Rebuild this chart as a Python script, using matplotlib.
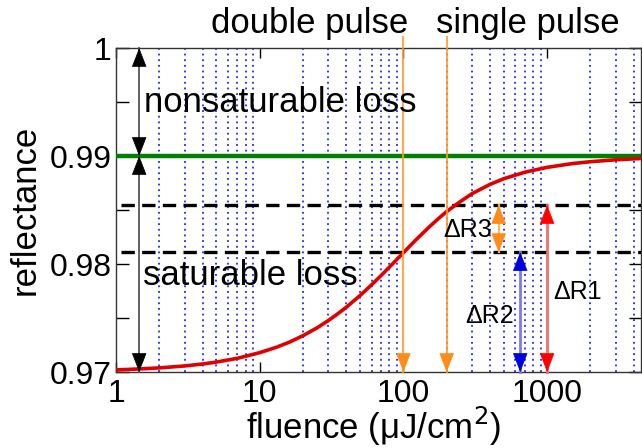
import numpy as np
import matplotlib
matplotlib.use("Agg")
import matplotlib.pyplot as plt
from matplotlib.ticker import LogLocator, FixedLocator, FuncFormatter, NullFormatter
import matplotlib.transforms as mtransforms

plt.rcParams['font.family'] = ['Liberation Sans', 'DejaVu Sans']

# ---- data ----
fluence = [1, 1.5, 2, 3, 4, 5, 7, 10, 13, 16, 20, 25, 30, 35, 40, 50, 60, 70, 85,
           100, 120, 150, 175, 200, 250, 300, 400, 500, 700, 1000, 1500, 2000,
           3000, 4500]
reflectance = [0.97019, 0.97029, 0.97038, 0.97056, 0.97074, 0.97092, 0.97127,
               0.97179, 0.97228, 0.97275, 0.97336, 0.97408, 0.97476, 0.97540,
               0.97599, 0.97709, 0.97807, 0.97894, 0.98008, 0.98105, 0.98213,
               0.98339, 0.98420, 0.98486, 0.98580, 0.98651, 0.98737, 0.98790,
               0.98850, 0.98895, 0.98930, 0.98947, 0.98965, 0.98977]
R_nonsat = 0.99          # green line
R_top = 1.0
R_bottom = 0.97
dR_low = 0.9811          # lower dashed line
dR_high = 0.98546        # upper dashed line
pulse_fluences = [100, 200]           # double / single pulse arrows
dR3_x, dR2_x, dR1_x = 460, 650, 1000
loss_arrow_x = 1.45
yticks = [0.97, 0.98, 0.99, 1.0]
xticks = [1, 10, 100, 1000]

fig = plt.figure(figsize=(6.42, 4.48), dpi=100)
ax = fig.add_axes([116/642, 76/448, 525/642, 324/448])
ax.set_xscale('log')
ax.set_xlim(1, 4500)
ax.set_ylim(R_bottom, R_top)

# grid (minor log positions only)
ax.xaxis.set_major_locator(FixedLocator(xticks))
ax.xaxis.set_major_formatter(FuncFormatter(lambda v, p: '%g' % v))
ax.xaxis.set_minor_locator(LogLocator(base=10, subs=np.arange(2, 10)))
ax.xaxis.set_minor_formatter(NullFormatter())
ax.grid(which='minor', axis='x', color='#0000EE', ls=(0, (1.2, 2.5)), lw=1.1)

ax.yaxis.set_major_locator(FixedLocator(yticks))
ax.yaxis.set_major_formatter(FuncFormatter(lambda v, p: '%g' % v))
ax.yaxis.set_minor_locator(FixedLocator([0.975, 0.985, 0.995]))

ax.tick_params(axis='both', which='both', direction='in', top=True, right=True,
               labelsize=23, width=1, color='black')
ax.tick_params(axis='x', which='major', length=7, pad=5)
ax.tick_params(axis='x', which='minor', length=0)
ax.tick_params(axis='y', which='both', length=9, pad=3)
for s in ax.spines.values():
    s.set_linewidth(1.0)
    s.set_color('#333333')

# lines
ax.axhline(R_nonsat, color='#008000', lw=3.2, zorder=3)
ax.plot(fluence, reflectance, color='#E00000', lw=2.6, zorder=4,
        solid_joinstyle='round')
for yv in (dR_low, dR_high):
    ax.plot([1.08, 4500], [yv, yv], color='black', lw=2.4, ls=(0, (4, 2.2)), zorder=3)

HEAD = dict(arrowstyle='-|>,head_length=0.9,head_width=0.35', lw=0.5,
            shrinkA=0, shrinkB=0, mutation_scale=14)

def head(x, yt, direction, color):
    ax.annotate('', xy=(x, yt), xytext=(x, yt - direction * 0.0013),
                arrowprops=dict(color=color, **HEAD), zorder=6,
                annotation_clip=False)

def arrow(x, y0, y1, line_color, head_color, lw=1.3, both=False):
    ax.plot([x, x], [y0, y1], color=line_color, lw=lw, zorder=5, clip_on=False)
    d = np.sign(y1 - y0)
    head(x, y1, d, head_color)
    if both:
        head(x, y0, -d, head_color)

# black loss arrows
arrow(loss_arrow_x, R_nonsat, R_top, '#555555', 'black', both=True)
arrow(loss_arrow_x, R_nonsat, R_bottom, '#555555', 'black', both=True)

# orange pulse arrows (start above the axes)
trans = mtransforms.blended_transform_factory(ax.transData, ax.transAxes)
for fx in pulse_fluences:
    ax.plot([fx, fx], [1.034, 0.0], transform=trans, color='#FF9A30', lw=1.5,
            alpha=0.85, zorder=5, clip_on=False)
    head(fx, R_bottom, -1, '#FF8C1A')

# delta R arrows
arrow(dR3_x, dR_low, dR_high, '#FFB060', '#FF8C1A', lw=1.6, both=True)
arrow(dR2_x, R_bottom, dR_low, '#7A7AF0', '#0000DD', lw=2.0, both=True)
arrow(dR1_x, R_bottom, dR_high, '#F07070', '#FF0000', lw=2.0, both=True)

# texts
ax.text(1.56, 0.9941, 'nonsaturable loss', fontsize=25, va='baseline', ha='left', zorder=7)
ax.text(1.53, 0.97806, 'saturable loss', fontsize=25, va='baseline', ha='left', zorder=7)
ax.text(189, 0.98253, '\u0394R3', fontsize=18, va='baseline', ha='left', zorder=7)
ax.text(269, 0.97457, '\u0394R2', fontsize=18, va='baseline', ha='left', zorder=7)
ax.text(1101, 0.97676, '\u0394R1', fontsize=18, va='baseline', ha='left', zorder=7)
ax.text(22.4, 1.046, 'double pulse', transform=trans, fontsize=25, ha='center',
        va='baseline')
ax.text(738, 1.046, 'single pulse', transform=trans, fontsize=25, ha='center',
        va='baseline')

ax.set_xlabel('fluence (\u03bcJ/cm$^2$)', fontsize=25)
ax.set_ylabel('reflectance', fontsize=25)
ax.xaxis.set_label_coords(0.49, -0.168)
ax.xaxis.label.set_va('center')
ax.yaxis.set_label_coords(-0.173, 0.5)
ax.yaxis.label.set_va('center')

fig.savefig('out.png', dpi=100)
